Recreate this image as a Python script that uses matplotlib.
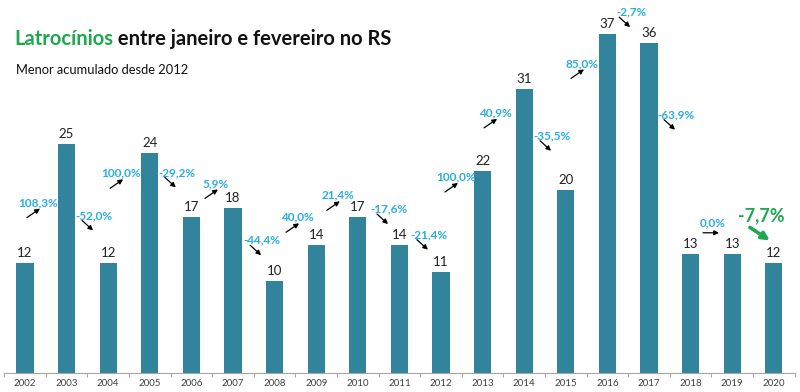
import numpy as np
import matplotlib.pyplot as plt
from matplotlib.transforms import offset_copy

plt.rcParams['font.family'] = ['Lato', 'DejaVu Sans']

## Data
anos = ['2002', '2003', '2004', '2005', '2006', '2007', '2008', '2009', '2010', '2011',
        '2012', '2013', '2014', '2015', '2016', '2017', '2018', '2019', '2020']
valores = [12, 25, 12, 24, 17, 18, 10, 14, 17, 14, 11, 22, 31, 20, 37, 36, 13, 13, 12]

# where each variation label sits (data coords, label k = change into year k+1)
var_x = [0.31, 1.66, 2.31, 3.65, 4.59, 5.70, 6.54, 7.52, 8.75, 9.71,
         10.36, 11.30, 12.67, 13.39, 14.57, 15.65, 16.54, 17.69]
var_y = [18.6, 17.2, 21.8, 21.9, 20.7, 14.5, 17.0, 19.4, 17.9, 15.1,
         21.4, 28.4, 25.9, 33.8, 39.4, 28.2, 16.4, 17.2]

## Colours
BAR = '#31849B'
AZUL = '#2AACE2'
VERDE = '#1FA84F'

# variation between consecutive years
variacao = [(valores[i] - valores[i - 1]) / valores[i - 1] * 100 for i in range(1, len(valores))]

fig = plt.figure(figsize=(8, 3.92), dpi=100)
ax = fig.add_axes([4.2 / 800, 19 / 392, 790.4 / 800, 373 / 392])
x = np.arange(len(valores))
ax.bar(x, valores, width=0.41, color=BAR)
ax.set_xlim(-0.5, len(valores) - 0.5)
ax.set_ylim(0, 373 / 9.16)

for s in ['top', 'left', 'right']:
    ax.spines[s].set_visible(False)
ax.spines['bottom'].set_color('#A6A6A6')
ax.spines['bottom'].set_linewidth(0.8)
ax.set_yticks([])
ax.set_xticks(x)
ax.set_xticklabels(anos, fontsize=7, color='#404040')
ax.tick_params(axis='x', which='major', length=0, pad=4.5)
ax.set_xticks(np.arange(-0.5, len(valores), 1), minor=True)
ax.tick_params(axis='x', which='minor', length=3, color='#A6A6A6', width=0.8)

# values above bars
for i, v in enumerate(valores):
    ax.annotate(str(v), (i, v), xytext=(0, 3), textcoords='offset points',
                ha='center', va='bottom', fontsize=9.5, color='#222222')

def seta(xc, yc, tail, head, cor='black', lw=0.9, ms=7):
    tr_t = offset_copy(ax.transData, fig=fig, x=tail[0], y=-tail[1], units='dots')
    tr_h = offset_copy(ax.transData, fig=fig, x=head[0], y=-head[1], units='dots')
    ax.annotate('', xy=(xc, yc), xycoords=tr_h, xytext=(xc, yc), textcoords=tr_t,
                arrowprops=dict(arrowstyle='-|>', color=cor, lw=lw, mutation_scale=ms,
                                shrinkA=0, shrinkB=0))

# variation labels and arrows
for k, p in enumerate(variacao):
    txt = ('%.1f%%' % p).replace('.', ',')
    xc, yc = var_x[k], var_y[k]
    if k == len(variacao) - 1:
        ax.text(xc, yc, txt, ha='center', va='center', fontsize=13, fontweight='bold', color=VERDE)
        seta(xc, yc, (-11, 12), (9, 25), cor=VERDE, lw=2.6, ms=11)
        continue
    ax.text(xc, yc, txt, ha='center', va='center', fontsize=8.5, fontweight='bold', color=AZUL)
    if p > 0:
        seta(xc, yc, (-11, 15), (2, 6))
    elif p < 0:
        seta(xc, yc, (-12, 5), (-1, 15))
    else:
        seta(xc, yc, (-10, 10), (6, 10))

# title
t1 = fig.text(14 / 800, 1 - 45 / 392, 'Latrocínios', fontsize=14.5, fontweight='bold',
              color=VERDE, va='baseline', ha='left')
fig.text(0, 0, ' entre janeiro e fevereiro no RS', fontsize=14.5, fontweight='bold',
         color='#111111', va='baseline', ha='left')
fig.canvas.draw()
bb = t1.get_window_extent()
fig.texts[-1].set_position((bb.x1 / 800, 1 - 45 / 392))
fig.text(16 / 800, 1 - 74 / 392, 'Menor acumulado desde 2012', fontsize=9.3,
         color='#111111', va='baseline', ha='left')

fig.savefig('out.png', dpi=100)
